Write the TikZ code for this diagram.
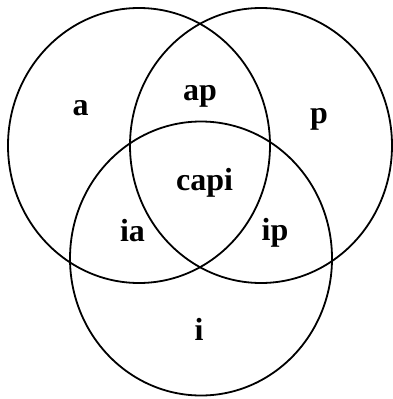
\documentclass[tikz,border=0pt]{standalone}
\usepackage{fontspec}
\setmainfont{Liberation Serif}
\begin{document}
\begin{tikzpicture}[x=1pt,y=-1pt,
  setline/.style={line width=1.8pt},
  lbl/.style={anchor=base,inner sep=0pt,font=\fontsize{32}{32}\selectfont\bfseries}]
\useasboundingbox (0,0) rectangle (392,399);
\draw[setline] (139,145.5) ellipse [x radius=131pt, y radius=137.5pt];
\draw[setline] (261,145.5) ellipse [x radius=131pt, y radius=137.5pt];
\draw[setline] (201,258.5) ellipse [x radius=131pt, y radius=137pt];
\node[lbl] (a) at (80.5,115) {a};
\node[lbl] (ap) at (200,100) {ap};
\node[lbl] (p) at (319,123) {p};
\node[lbl] (capi) at (204.5,190) {capi};
\node[lbl] (ia) at (132.5,241) {ia};
\node[lbl] (ip) at (275,240) {ip};
\node[lbl] (i) at (199,340) {i};
\end{tikzpicture}
\end{document}
